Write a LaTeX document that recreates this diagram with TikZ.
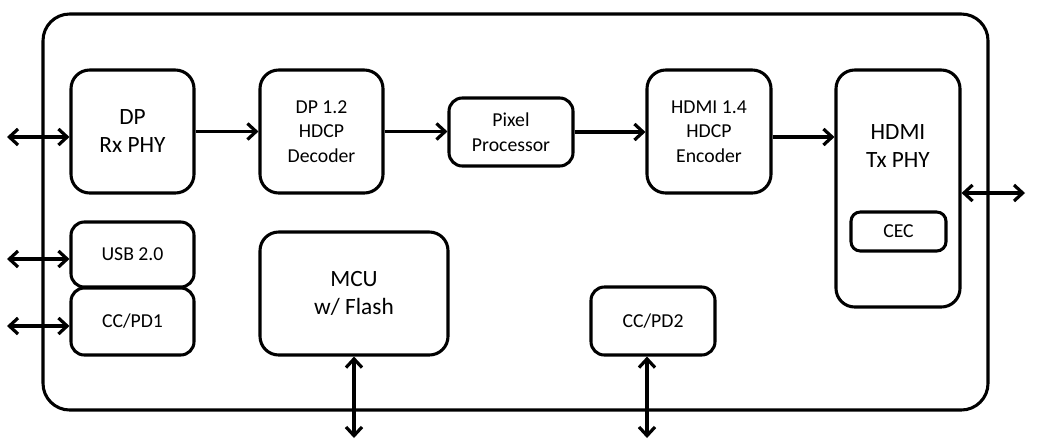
\documentclass[tikz,border=0pt]{standalone}
\usepackage{fontspec}
\setmainfont{Carlito}
\usetikzlibrary{arrows.meta,calc}
\def\pxu{0.75pt}
\begin{document}
\begin{tikzpicture}[x=0.75pt,y=-0.75pt,
  blk/.style={draw,line width=2.3pt,rounded corners=14pt,inner sep=0pt,align=center},
  big/.style={font=\fontsize{17.5}{21}\selectfont},
  small/.style={font=\fontsize{14.8}{18.4}\selectfont},
  tipb/.tip={Straight Barb[length=6.5pt,width=12pt]},
  con/.style={line width=2.4pt,-tipb},
  bicon/.style={line width=2.4pt,tipb-tipb}]
\useasboundingbox (0,0) rectangle (1037,447);

\node[blk,rounded corners=20pt,minimum width=945*\pxu,minimum height=396*\pxu] (chip) at (515.5,212) {};

\node[blk,big,minimum width=123*\pxu,minimum height=123*\pxu] (dprx) at (132.5,131.5) {DP\\Rx PHY};
\node[blk,small,minimum width=123*\pxu,minimum height=123*\pxu] (dec) at (321.5,131.5) {DP 1.2\\HDCP\\Decoder};
\node[blk,small,rounded corners=10pt,minimum width=124*\pxu,minimum height=68*\pxu] (pix) at (511,132) {Pixel\\Processor};
\node[blk,small,minimum width=124*\pxu,minimum height=123*\pxu] (enc) at (709,131.5) {HDMI 1.4\\HDCP\\Encoder};
\node[blk,minimum width=124*\pxu,minimum height=237*\pxu] (tx) at (898,188.5) {};
\node[big,align=center,inner sep=0pt] (txlbl) at (898,146) {HDMI\\Tx PHY};
\node[blk,small,rounded corners=7pt,minimum width=95*\pxu,minimum height=39*\pxu] (cec) at (898.5,231.5) {CEC};
\node[blk,small,rounded corners=10pt,minimum width=123*\pxu,minimum height=65*\pxu] (usb) at (132.5,254.5) {USB 2.0};
\node[blk,small,rounded corners=10pt,minimum width=123*\pxu,minimum height=67*\pxu] (cc1) at (132.5,321.5) {CC/PD1};
\node[blk,big,minimum width=188*\pxu,minimum height=123*\pxu] (mcu) at (354,293.5) {MCU\\w/ Flash};
\node[blk,small,rounded corners=10pt,minimum width=124*\pxu,minimum height=68*\pxu] (cc2) at (653,321) {CC/PD2};

\coordinate (inDP) at (7,137);
\coordinate (inUSB) at (7,259);
\coordinate (inCC) at (7,326);
\coordinate (outH) at (1025,193);
\coordinate (outM) at (354,438);
\coordinate (outC) at (647,438);
\coordinate (encout) at ($(enc.east)+(0,5.5)$);

\draw[bicon] (inDP) -- (inDP -| dprx.west);
\draw[bicon] (inUSB) -- (inUSB -| usb.west);
\draw[bicon] (inCC) -- (inCC -| cc1.west);
\draw[con] (dprx.east) -- (dprx.east -| dec.west);
\draw[con] (dec.east) -- (dec.east -| pix.west);
\draw[con] (pix.east) -- (pix.east -| enc.west);
\draw[con] (encout) -- (encout -| tx.west);
\draw[bicon] (tx.east |- outH) -- (outH);
\draw[bicon] (mcu.south) -- (outM);
\draw[bicon] (cc2.south -| outC) -- (outC);
\end{tikzpicture}
\end{document}
